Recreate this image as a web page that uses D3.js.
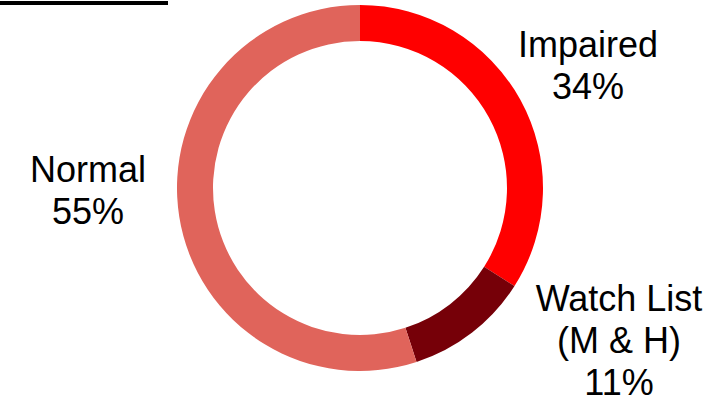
<!DOCTYPE html>
<html>
<head>
<meta charset="utf-8">
<script src="https://cdn.jsdelivr.net/npm/d3@7"></script>
<style>
html,body{margin:0;padding:0;background:#fff;}
svg{display:block;}
</style>
</head>
<body>
<svg id="chart" width="723" height="403"></svg>
<script>
const categories = ["Impaired", "Watch List", "Normal"];
const values = [34, 11, 55];
const labelLines = [["Impaired", "34%"], ["Watch List", "(M & H)", "11%"], ["Normal", "55%"]];
const colors = ["#FF0000", "#760008", "#E0645B"];

const svg = d3.select("#chart");
const cx = 360, cy = 188, outerR = 183, innerR = 147;

svg.append("rect").attr("x", 0).attr("y", 1).attr("width", 168).attr("height", 4).attr("fill", "#000");

const data = categories.map((c, i) => ({cat: c, value: values[i], color: colors[i], lines: labelLines[i]}));
const pie = d3.pie().value(d => d.value).sort(null);
const arc = d3.arc().innerRadius(innerR).outerRadius(outerR);
const arcs = pie(data);

const g = svg.append("g").attr("transform", `translate(${cx},${cy})`);
g.selectAll("path").data(arcs).enter().append("path")
  .attr("d", arc)
  .attr("fill", d => d.data.color);

const labelPos = {"Impaired": [588, 57], "Watch List": [619, 311], "Normal": [88, 182]};
const lineH = 42;
data.forEach(d => {
  const [lx, ly] = labelPos[d.cat];
  const t = svg.append("text")
    .attr("text-anchor", "middle")
    .attr("font-family", "Liberation Sans, Arial, sans-serif")
    .attr("font-size", 36)
    .attr("fill", "#000");
  d.lines.forEach((ln, i) => {
    t.append("tspan").attr("x", lx).attr("y", ly + i * lineH).text(ln);
  });
});
</script>
</body>
</html>
